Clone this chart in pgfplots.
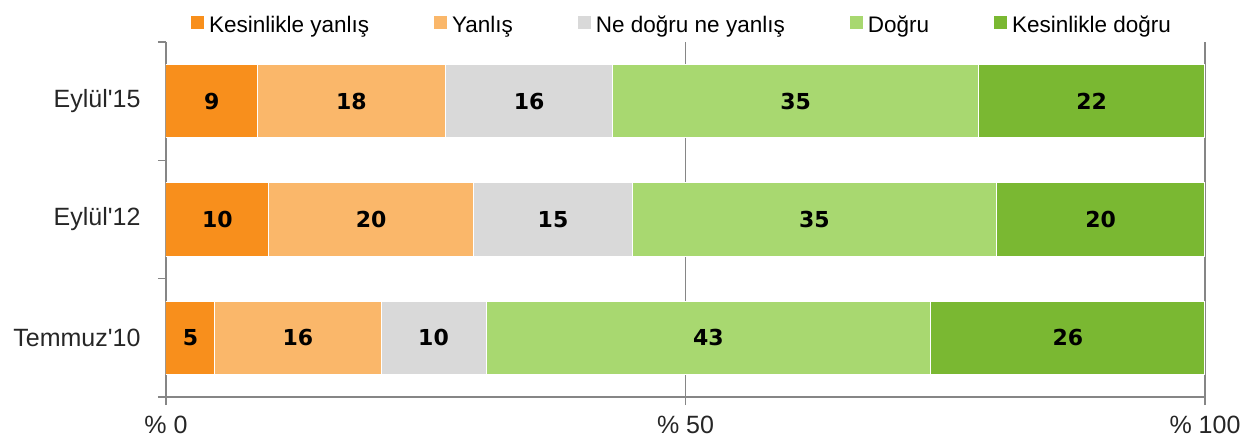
\documentclass[border=0pt]{standalone}
\usepackage{fontspec}
\setmainfont{Liberation Sans}
\newfontfamily\numfont{DejaVu Sans}
\usepackage{pgfplots}
\pgfplotsset{compat=1.18}
\usepackage{pgfplotstable}

\definecolor{cA}{RGB}{248,143,28}
\definecolor{cB}{RGB}{250,183,106}
\definecolor{cC}{RGB}{217,217,217}
\definecolor{cD}{RGB}{168,216,112}
\definecolor{cE}{RGB}{122,184,50}
\definecolor{axg}{RGB}{134,134,134}

% y: 0 = Temmuz'10, 1 = Eylul'12, 2 = Eylul'15
\pgfplotstableread{
y x
0 4.7
1 9.9
2 8.8
}\tA
\pgfplotstableread{
y x
0 16.0
1 19.7
2 18.1
}\tB
\pgfplotstableread{
y x
0 10.1
1 15.3
2 16.1
}\tC
\pgfplotstableread{
y x
0 42.8
1 35.0
2 35.2
}\tD
\pgfplotstableread{
y x
0 26.4
1 20.1
2 21.8
}\tE

\begin{document}
\begin{tikzpicture}
\begin{axis}[
  scale only axis, width=1039pt, height=355pt,
  xbar stacked, bar width=0.62,
  xmin=0, xmax=100, ymin=-0.5, ymax=2.5,
  axis x line=bottom, axis y line=left,
  axis line style={-, draw=axg, line width=1.2pt},
  xtick={0,50,100}, xticklabels={\% 0,\% 50,\% 100},
  ytick={0,1,2}, yticklabels={Temmuz\textquotesingle10,Eylül\textquotesingle12,Eylül\textquotesingle15},
  minor ytick={-0.5,0.5,1.5,2.5},
  xmajorgrids, grid style={draw=axg, line width=1.2pt},
  tick align=outside, major tick length=8pt, minor tick length=8pt,
  major y tick style={draw=none},
  minor y tick style={draw=axg, line width=1.2pt},
  major x tick style={draw=axg, line width=1.2pt},
  tick label style={font=\fontsize{25}{29}\selectfont, text=black!85},
  xticklabel style={yshift=-8pt},
  yticklabel style={xshift=-14pt},
  legend columns=5,
  legend style={at={(0.5,1)}, anchor=south, xshift=-4pt, yshift=6pt, draw=none,
    font=\fontsize{22.5}{26}\selectfont, inner sep=0pt,
    /tikz/every odd column/.append style={column sep=2pt},
    /tikz/every even column/.append style={column sep=62pt}},
  legend image code/.code={\fill[#1] (0pt,-5pt) rectangle (14pt,9pt);},
  every axis plot/.append style={draw=white, line width=1pt},
  nodes near coords={\pgfmathprintnumber[fixed,precision=0,assume math mode=true]{\pgfplotspointmeta}},
  point meta={\thisrow{x}},
  every node near coord/.append style={anchor=center,
    font=\fontsize{22}{26}\selectfont\numfont\bfseries, text=black},
]
\addplot[fill=cA] table[x=x,y=y] {\tA};
\addplot[fill=cB] table[x=x,y=y] {\tB};
\addplot[fill=cC] table[x=x,y=y] {\tC};
\addplot[fill=cD] table[x=x,y=y] {\tD};
\addplot[fill=cE] table[x=x,y=y] {\tE};
\legend{Kesinlikle yanlış,Yanlış,Ne doğru ne yanlış,Doğru,Kesinlikle doğru}
\coordinate (o) at (rel axis cs:0,0);
\end{axis}
\pgfresetboundingbox
\path (o) ++(-166pt,-50pt) rectangle ++(1259pt,447pt);
\end{tikzpicture}
\end{document}
